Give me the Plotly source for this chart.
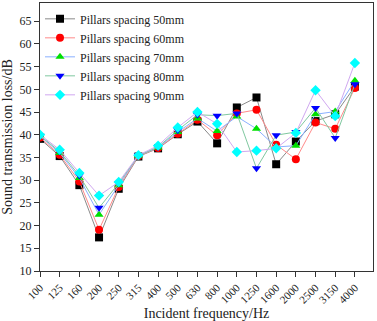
import plotly.graph_objects as go

freqs = ["100", "125", "160", "200", "250", "315", "400", "500", "630", "800",
         "1000", "1250", "1600", "2000", "2500", "3150", "4000"]

s50 = [39.1, 35.3, 28.9, 17.4, 28.1, 35.2, 37.0, 40.1, 42.9, 38.1, 46.0, 48.2, 33.5, 38.5, 43.0, 44.5, 50.6]
s60 = [39.4, 35.6, 29.7, 19.1, 28.5, 35.3, 37.1, 40.2, 43.3, 39.9, 44.7, 45.5, 37.8, 34.6, 42.7, 41.3, 50.3]
s70 = [39.7, 36.0, 30.5, 22.4, 28.9, 35.4, 37.2, 40.6, 43.6, 40.8, 44.0, 41.3, 37.3, 37.6, 44.5, 45.1, 51.9]
s80 = [39.8, 36.3, 31.0, 23.9, 29.3, 35.4, 37.3, 41.0, 44.4, 44.2, 44.7, 32.6, 39.9, 40.6, 45.9, 39.3, 51.1]
s90 = [40.0, 36.7, 31.6, 26.6, 29.6, 35.5, 37.6, 41.6, 45.0, 42.4, 36.2, 36.5, 37.0, 40.4, 49.8, 44.1, 55.8]

names = ["Pillars spacing 50mm", "Pillars spacing 60mm", "Pillars spacing 70mm",
         "Pillars spacing 80mm", "Pillars spacing 90mm"]
series = [s50, s60, s70, s80, s90]
symbols = ["square", "circle", "triangle-up", "triangle-down", "diamond"]
mcolors = ["#000000", "#ff0000", "#00e000", "#0000ff", "#00ffff"]
lcolors = ["#8a8a8a", "#ff8a8a", "#8ab0ff", "#80c8a0", "#d0a8f0"]

xidx = list(range(len(freqs)))

fig = go.Figure()
for n, s, sym, mc, lc in zip(names, series, symbols, mcolors, lcolors):
    fig.add_trace(go.Scatter(
        x=xidx, y=s, name=n, mode="lines+markers",
        line=dict(color=lc, width=1),
        marker=dict(symbol=sym, color=mc, size=8, line=dict(width=0)),
    ))

font = "Liberation Serif, Times New Roman, serif"
fig.update_layout(
    width=377, height=321,
    margin=dict(l=40, r=4, t=2, b=49),
    paper_bgcolor="white", plot_bgcolor="white",
    font=dict(family=font, color="#222222", size=12),
    showlegend=True,
    legend=dict(x=0.0, y=0.995, xanchor="left", yanchor="top",
                bgcolor="rgba(0,0,0,0)", font=dict(size=12, family=font),
                tracegroupgap=0, itemwidth=30),
)
fig.update_xaxes(
    range=[0, 16.92], tickvals=xidx, ticktext=freqs, tickangle=-45,
    showgrid=False, zeroline=False,
    showline=True, linecolor="#333333", linewidth=1, mirror=True,
    ticks="outside", ticklen=5, tickcolor="#333333",
    tickfont=dict(size=11, family=font),
    title=dict(text="Incident frequency/Hz", font=dict(size=14, family=font), standoff=4),
)
fig.update_yaxes(
    range=[10, 69], tickvals=list(range(10, 70, 5)),
    showgrid=False, zeroline=False,
    showline=True, linecolor="#333333", linewidth=1, mirror=True,
    ticks="outside", ticklen=5, tickcolor="#333333",
    tickfont=dict(size=12, family=font),
    title=dict(text="Sound transmission loss/dB", font=dict(size=14, family=font), standoff=4),
)

fig.write_html("out.html", config={"displayModeBar": False},
               post_script="document.body.style.margin='0px';")
